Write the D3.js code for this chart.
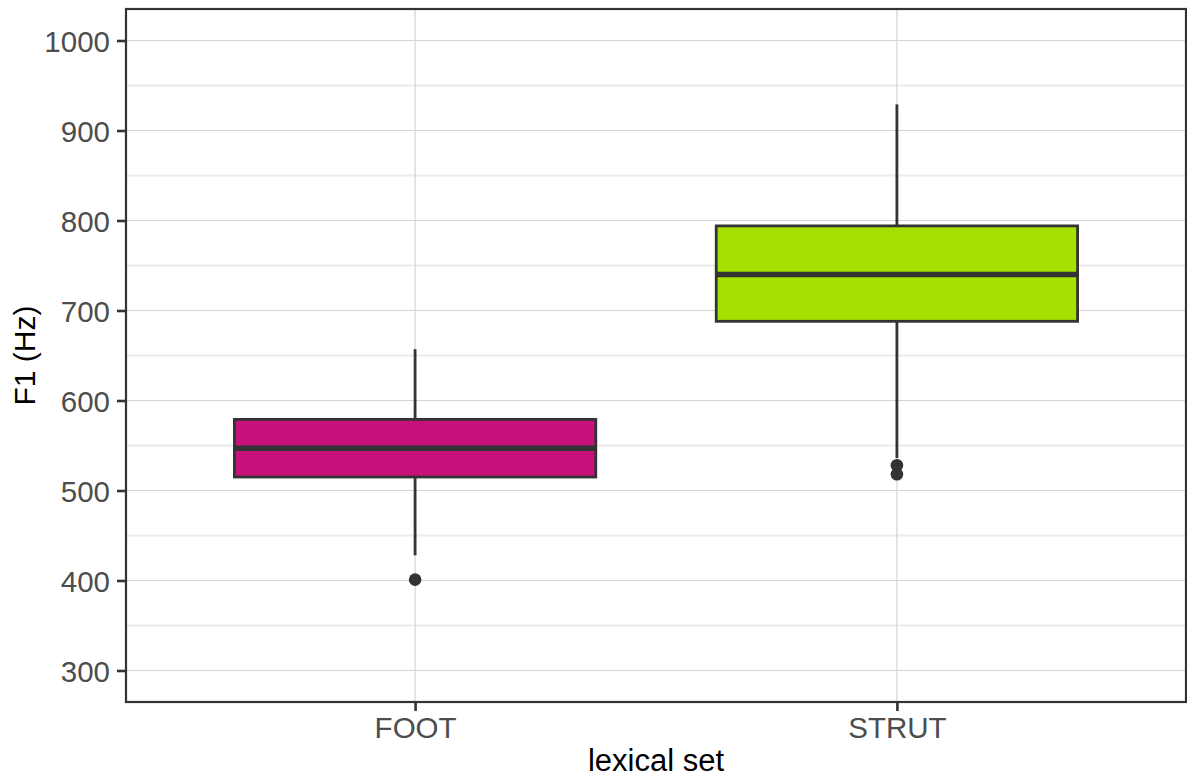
<!DOCTYPE html>
<html>
<head>
<meta charset="utf-8">
<script src="https://cdn.jsdelivr.net/npm/d3@7"></script>
<style>
  html, body { margin: 0; padding: 0; background: #fff; }
  svg { display: block; }
</style>
</head>
<body>
<svg id="chart" width="1187" height="778"></svg>
<script>
// Vowel F1 summaries per lexical set
const categories = ["FOOT", "STRUT"];
const q1 = [515, 688];
const median = [547, 740];
const q3 = [579, 794];
const whiskerLow = [428, 536];
const whiskerHigh = [657, 929];
const outliers = [[401], [528, 518]];
const fills = ["#C8117A", "#A6E000"];
const yTicks = [300, 400, 500, 600, 700, 800, 900, 1000];
const yMinor = [350, 450, 550, 650, 750, 850, 950];
const yLimits = [265, 1035];

const svg = d3.select("#chart");
const panel = { left: 126, right: 1186, top: 9, bottom: 702 };
const font = "Liberation Sans, Arial, Helvetica, sans-serif";

// discrete x positions with 0.6-unit expansion on each side
const xUnit = (panel.right - panel.left) / (categories.length + 0.2);
const x = d3.scalePoint()
  .domain(categories)
  .range([panel.left + 0.6 * xUnit, panel.right - 0.6 * xUnit]);
const boxHalf = 0.375 * xUnit;

const y = d3.scaleLinear().domain(yLimits).range([panel.bottom, panel.top]);

const g = svg.append("g");

// minor grid
g.selectAll("line.minor").data(yMinor).join("line")
  .attr("x1", panel.left).attr("x2", panel.right)
  .attr("y1", d => y(d)).attr("y2", d => y(d))
  .attr("stroke", "#EBEBEB").attr("stroke-width", 2);

// major grid
g.selectAll("line.majorY").data(yTicks).join("line")
  .attr("x1", panel.left).attr("x2", panel.right)
  .attr("y1", d => y(d)).attr("y2", d => y(d))
  .attr("stroke", "#D4D4D4").attr("stroke-width", 1.2);
g.selectAll("line.majorX").data(categories).join("line")
  .attr("x1", d => x(d)).attr("x2", d => x(d))
  .attr("y1", panel.top).attr("y2", panel.bottom)
  .attr("stroke", "#D4D4D4").attr("stroke-width", 1.2);

// boxplots
const stats = categories.map((c, i) => ({
  cat: c, q1: q1[i], med: median[i], q3: q3[i],
  lo: whiskerLow[i], hi: whiskerHigh[i], out: outliers[i], fill: fills[i]
}));
const ink = "#333333";

const boxes = g.selectAll("g.box").data(stats).join("g");
boxes.append("line")
  .attr("x1", d => x(d.cat)).attr("x2", d => x(d.cat))
  .attr("y1", d => y(d.hi)).attr("y2", d => y(d.q3))
  .attr("stroke", ink).attr("stroke-width", 2.8);
boxes.append("line")
  .attr("x1", d => x(d.cat)).attr("x2", d => x(d.cat))
  .attr("y1", d => y(d.q1)).attr("y2", d => y(d.lo))
  .attr("stroke", ink).attr("stroke-width", 2.8);
boxes.append("rect")
  .attr("x", d => x(d.cat) - boxHalf).attr("width", 2 * boxHalf)
  .attr("y", d => y(d.q3)).attr("height", d => y(d.q1) - y(d.q3))
  .attr("fill", d => d.fill).attr("stroke", ink).attr("stroke-width", 2.8);
boxes.append("line")
  .attr("x1", d => x(d.cat) - boxHalf).attr("x2", d => x(d.cat) + boxHalf)
  .attr("y1", d => y(d.med)).attr("y2", d => y(d.med))
  .attr("stroke", ink).attr("stroke-width", 5.5);
boxes.selectAll("circle").data(d => d.out.map(v => ({ cat: d.cat, v }))).join("circle")
  .attr("cx", d => x(d.cat)).attr("cy", d => y(d.v)).attr("r", 6.3)
  .attr("fill", ink);

// panel border
g.append("rect")
  .attr("x", panel.left).attr("y", panel.top)
  .attr("width", panel.right - panel.left).attr("height", panel.bottom - panel.top)
  .attr("fill", "none").attr("stroke", ink).attr("stroke-width", 2.2);

// y axis
const yAxis = d3.axisLeft(y).tickValues(yTicks).tickFormat(d3.format("d")).tickSize(8).tickPadding(7);
const ya = svg.append("g").attr("transform", `translate(${panel.left - 1},0)`).call(yAxis);
ya.select(".domain").remove();
ya.selectAll(".tick line").attr("stroke", ink).attr("stroke-width", 2.6);
ya.selectAll(".tick text")
  .attr("fill", "#4D4D4D").attr("font-family", font)
  .attr("font-size", 29.5).attr("dy", "0.36em");

// x axis
const xAxis = d3.axisBottom(x).tickSize(8).tickPadding(5);
const xa = svg.append("g").attr("transform", `translate(0,${panel.bottom + 1})`).call(xAxis);
xa.select(".domain").remove();
xa.selectAll(".tick line").attr("stroke", ink).attr("stroke-width", 2.6);
xa.selectAll(".tick text")
  .attr("fill", "#4D4D4D").attr("font-family", font)
  .attr("font-size", 29.5).attr("dy", "0.74em");

// axis titles
svg.append("text")
  .attr("x", (panel.left + panel.right) / 2).attr("y", 771)
  .attr("text-anchor", "middle")
  .attr("font-family", font).attr("font-size", 31)
  .attr("fill", "#000").text("lexical set");
svg.append("text")
  .attr("transform", `translate(35,${(panel.top + panel.bottom) / 2}) rotate(-90)`)
  .attr("text-anchor", "middle")
  .attr("font-family", font).attr("font-size", 30)
  .attr("fill", "#000").text("F1 (Hz)");
</script>
</body>
</html>
